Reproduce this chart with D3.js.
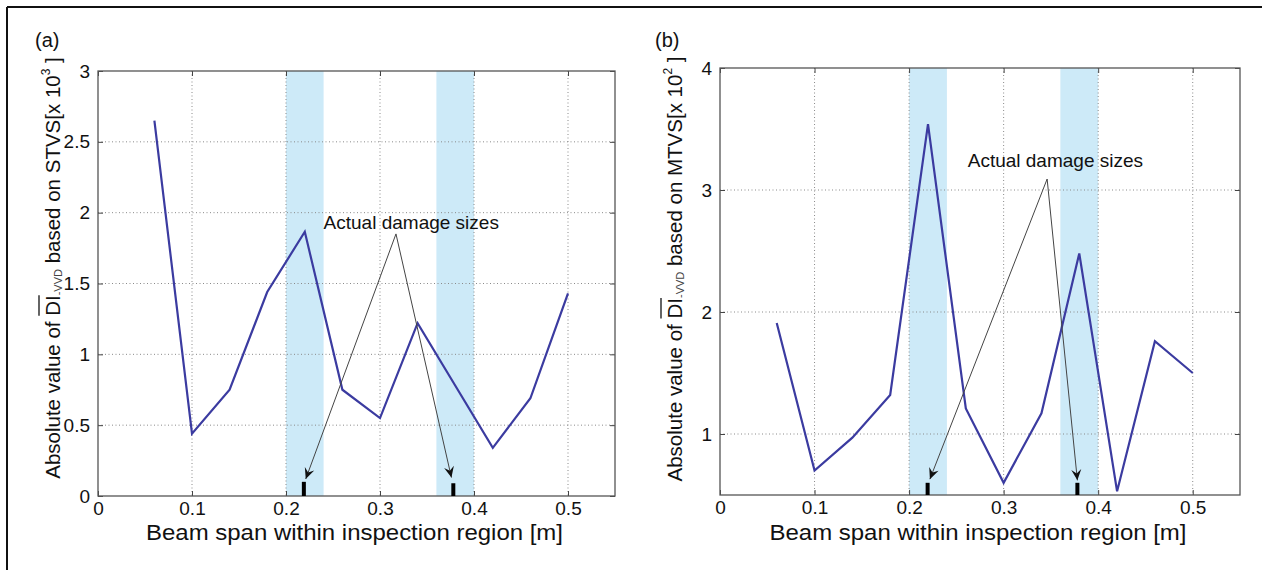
<!DOCTYPE html>
<html>
<head>
<meta charset="utf-8">
<script src="https://cdn.jsdelivr.net/npm/d3@7"></script>
<style>
  body { margin: 0; background: #fff; }
  text { font-family: "Liberation Sans", Arial, sans-serif; }
</style>
</head>
<body>
<svg id="chart" width="1266" height="570"></svg>
<script>
// beam positions where DI was evaluated [m]
const spans = [0.06, 0.10, 0.14, 0.18, 0.22, 0.26, 0.30, 0.34, 0.38, 0.42, 0.46, 0.50];
// (a) based on STVS [x 10^3]
const stvsValues = [2.65, 0.44, 0.75, 1.44, 1.865, 0.75, 0.55, 1.22, 0.78, 0.34, 0.69, 1.43];
// (b) based on MTVS [x 10^2]
const mtvsValues = [1.91, 0.70, 0.97, 1.32, 3.54, 1.21, 0.60, 1.17, 2.48, 0.53, 1.76, 1.50];

const xTicks = [0, 0.1, 0.2, 0.3, 0.4, 0.5];
const stvsTicks = [0, 0.5, 1, 1.5, 2, 2.5, 3];
const mtvsTicks = [1, 2, 3, 4];

// damaged zones along the beam
const damageBands = [[0.20, 0.24], [0.36, 0.40]];

// "Actual damage sizes" annotations: [x, y] in data units
const stvsLabelAt = [0.24, 1.93];
const stvsArrowFrom = [0.317, 1.85];
const stvsArrowTo = [[0.221, 0.12], [0.376, 0.13]];
const stvsMarks = [[0.219, 0.10], [0.378, 0.09]];

const mtvsLabelAt = [0.262, 3.24];
const mtvsArrowFrom = [0.346, 3.09];
const mtvsArrowTo = [[0.222, 0.63], [0.378, 0.62]];
const mtvsMarks = [[0.2196, 0.60], [0.378, 0.60]];

const svg = d3.select("#chart");

// open arrowhead like matlab's "vback"
svg.append("defs").append("marker")
  .attr("id", "head")
  .attr("viewBox", "-12 -6 14 12")
  .attr("refX", 0).attr("refY", 0)
  .attr("markerWidth", 14).attr("markerHeight", 12)
  .attr("markerUnits", "userSpaceOnUse")
  .attr("orient", "auto")
  .append("path")
  .attr("d", "M0,0 L-11,-5 L-7,0 L-11,5 Z")
  .attr("fill", "#111");

// figure frame (top and left edges only are visible)
svg.append("line").attr("x1", 7).attr("y1", 7).attr("x2", 1262).attr("y2", 7)
  .attr("stroke", "#111").attr("stroke-width", 2);
svg.append("line").attr("x1", 7).attr("y1", 7).attr("x2", 7).attr("y2", 570)
  .attr("stroke", "#111").attr("stroke-width", 2);

function drawPanel(cfg) {
  const g = svg.append("g");
  const x = d3.scaleLinear().domain([0, 0.55]).range([cfg.left, cfg.right]);
  const y = d3.scaleLinear().domain(cfg.yDomain).range([cfg.bottom, cfg.top]);

  // shaded damage bands
  g.selectAll("rect.band").data(damageBands).join("rect")
    .attr("class", "band")
    .attr("x", d => x(d[0]))
    .attr("width", d => x(d[1]) - x(d[0]))
    .attr("y", cfg.top)
    .attr("height", cfg.bottom - cfg.top)
    .attr("fill", "#cdeaf8");

  // dotted grid
  g.selectAll("line.vgrid").data(xTicks.filter(d => d > 0)).join("line")
    .attr("x1", d => x(d)).attr("x2", d => x(d))
    .attr("y1", cfg.top).attr("y2", cfg.bottom)
    .attr("stroke", "#8a8a8a").attr("stroke-width", 1).attr("stroke-dasharray", "1,2.5");
  g.selectAll("line.hgrid").data(cfg.yTicks.filter(d => d > cfg.yDomain[0] && d < cfg.yDomain[1])).join("line")
    .attr("x1", cfg.left).attr("x2", cfg.right)
    .attr("y1", d => y(d)).attr("y2", d => y(d))
    .attr("stroke", "#8a8a8a").attr("stroke-width", 1).attr("stroke-dasharray", "1,2.5");

  // axes with inward ticks on all four sides
  const styleAxis = sel => {
    sel.select(".domain").remove();
    sel.selectAll(".tick line").attr("stroke", "#444");
    sel.selectAll(".tick text").attr("fill", "#111").style("font-size", "19px")
      .style("font-family", '"Liberation Sans", Arial, sans-serif');
  };
  g.append("g").attr("transform", `translate(0,${cfg.bottom})`)
    .call(d3.axisBottom(x).tickValues(xTicks).tickSizeInner(-5).tickSizeOuter(0).tickPadding(6).tickFormat(d3.format("")))
    .call(styleAxis);
  g.append("g").attr("transform", `translate(0,${cfg.top})`)
    .call(d3.axisTop(x).tickValues(xTicks).tickSizeInner(-5).tickSizeOuter(0).tickFormat(""))
    .call(styleAxis);
  g.append("g").attr("transform", `translate(${cfg.left},0)`)
    .call(d3.axisLeft(y).tickValues(cfg.yTicks).tickSizeInner(-5).tickSizeOuter(0).tickPadding(8).tickFormat(d3.format("")))
    .call(styleAxis);
  g.append("g").attr("transform", `translate(${cfg.right},0)`)
    .call(d3.axisRight(y).tickValues(cfg.yTicks).tickSizeInner(-5).tickSizeOuter(0).tickFormat(""))
    .call(styleAxis);

  g.append("rect")
    .attr("x", cfg.left).attr("y", cfg.top)
    .attr("width", cfg.right - cfg.left).attr("height", cfg.bottom - cfg.top)
    .attr("fill", "none").attr("stroke", "#555").attr("stroke-width", 1.3);

  // DI curve
  const line = d3.line().x((d, i) => x(spans[i])).y(d => y(d));
  g.append("path").datum(cfg.values)
    .attr("d", line)
    .attr("fill", "none")
    .attr("stroke", "#3b3ba0")
    .attr("stroke-width", 2.2)
    .attr("stroke-linejoin", "miter");

  // annotation
  g.append("text")
    .attr("x", x(cfg.labelAt[0])).attr("y", y(cfg.labelAt[1]))
    .attr("dy", "0.35em")
    .style("font-size", "19px").attr("fill", "#111")
    .text("Actual damage sizes");
  g.selectAll("line.arrow").data(cfg.arrowTo).join("line")
    .attr("x1", x(cfg.arrowFrom[0])).attr("y1", y(cfg.arrowFrom[1]))
    .attr("x2", d => x(d[0])).attr("y2", d => y(d[1]))
    .attr("stroke", "#444").attr("stroke-width", 1)
    .attr("marker-end", "url(#head)");
  g.selectAll("line.mark").data(cfg.marks).join("line")
    .attr("x1", d => x(d[0])).attr("x2", d => x(d[0]))
    .attr("y1", cfg.bottom).attr("y2", d => y(d[1]))
    .attr("stroke", "#000").attr("stroke-width", 4);

  // x axis title
  g.append("text")
    .attr("x", (cfg.left + cfg.right) / 2 - 2).attr("y", 540)
    .attr("text-anchor", "middle")
    .attr("textLength", 417).attr("lengthAdjust", "spacingAndGlyphs")
    .style("font-size", "22px").attr("fill", "#111")
    .text("Beam span within inspection region [m]");

  // y axis title, rotated
  const lg = g.append("g").attr("transform", `translate(${cfg.labelX},${cfg.labelY}) rotate(-90)`);
  const t = lg.append("text").attr("text-anchor", "middle")
    .style("font-size", "20.5px").attr("fill", "#111");
  t.append("tspan").text("Absolute value of ");
  t.append("tspan").text("DI");
  t.append("tspan").attr("dy", 2).style("font-size", "11px").attr("fill", "#444").text("-VVD");
  t.append("tspan").attr("dy", -2).text(" based on " + cfg.basis + "[x 10");
  t.append("tspan").attr("dy", -10).style("font-size", "12px").text(cfg.power);
  t.append("tspan").attr("dy", 10).text(" ]");

  // overline above DI
  const node = t.node();
  const iD = node.textContent.indexOf("DI");
  const a = node.getExtentOfChar(iD);
  const b = node.getExtentOfChar(iD + 1);
  lg.append("line")
    .attr("x1", a.x).attr("x2", b.x + b.width)
    .attr("y1", a.y - 2).attr("y2", a.y - 2)
    .attr("stroke", "#111").attr("stroke-width", 1.3);

  // panel tag
  svg.append("text").attr("x", cfg.tagX).attr("y", 47)
    .style("font-size", "20px").attr("fill", "#111").text(cfg.tag);
}

drawPanel({
  left: 98, right: 615, top: 71, bottom: 496,
  yDomain: [0, 3], yTicks: stvsTicks, values: stvsValues,
  labelAt: stvsLabelAt, arrowFrom: stvsArrowFrom, arrowTo: stvsArrowTo, marks: stvsMarks,
  basis: "STVS", power: "3", labelX: 60, labelY: 268, tag: "(a)", tagX: 35
});

drawPanel({
  left: 720, right: 1240, top: 68, bottom: 495,
  yDomain: [0.5, 4], yTicks: mtvsTicks, values: mtvsValues,
  labelAt: mtvsLabelAt, arrowFrom: mtvsArrowFrom, arrowTo: mtvsArrowTo, marks: mtvsMarks,
  basis: "MTVS", power: "2", labelX: 682, labelY: 269, tag: "(b)", tagX: 655
});
</script>
</body>
</html>
